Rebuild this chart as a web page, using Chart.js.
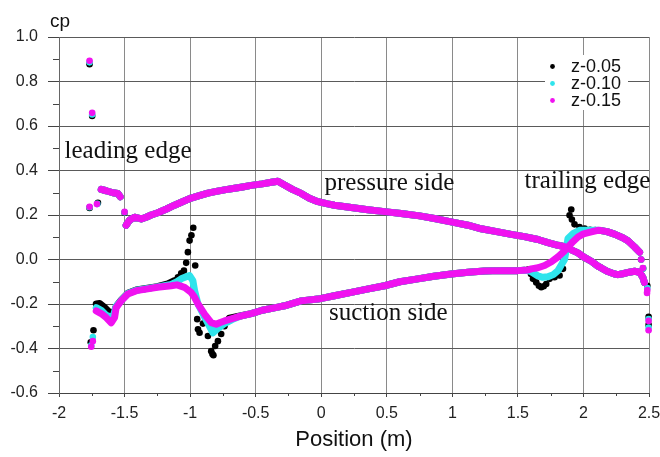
<!DOCTYPE html>
<html><head><meta charset="utf-8">
<script src="https://cdn.jsdelivr.net/npm/chart.js@4.4.1/dist/chart.umd.min.js"></script>
<style>html,body{margin:0;padding:0;background:#fff}</style>
</head><body>
<canvas id="c" width="660" height="457" style="display:block;width:660px;height:457px"></canvas>
<script>
// ---------- DATA ----------
const seriesLabels = ['z-0.05', 'z-0.10', 'z-0.15'];
const seriesColors = ['#000000', '#2fe4ec', '#f012f0'];

const xTicks = [-2, -1.5, -1, -0.5, 0, 0.5, 1, 1.5, 2, 2.5];
const yTicks = [-0.6, -0.4, -0.2, 0.0, 0.2, 0.4, 0.6, 0.8, 1.0];
const xMinorTicks = [-1.75, -1.25, -0.75, -0.25, 0.25, 0.75, 1.25, 1.75, 2.25];
const yMinorTicks = [-0.5, -0.3, -0.1, 0.1, 0.3, 0.5, 0.7, 0.9];

// pressure side (shared by all three z sections)
const pressureLE = [[-1.678,0.315],[-1.64,0.309],[-1.589,0.300],[-1.551,0.297],[-1.533,0.282]];
const pressure = [[-1.488,0.154],[-1.463,0.176],[-1.424,0.190],[-1.395,0.186],[-1.373,0.182],[-1.335,0.190],
  [-1.297,0.200],[-1.246,0.210],[-1.18,0.227],[-1.119,0.244],[-1.05,0.262],[-0.992,0.276],[-0.93,0.287],
  [-0.864,0.298],[-0.80,0.306],[-0.738,0.313],[-0.661,0.320],[-0.60,0.326],[-0.534,0.333],[-0.45,0.340],
  [-0.38,0.347],[-0.33,0.352],[-0.28,0.335],[-0.22,0.315],[-0.153,0.297],[-0.09,0.275],[-0.025,0.260],
  [0.05,0.250],[0.101,0.244],[0.2,0.236],[0.356,0.224],[0.5,0.214],[0.61,0.207],[0.75,0.196],[0.864,0.184],
  [1.0,0.168],[1.119,0.154],[1.22,0.138],[1.348,0.124],[1.449,0.113],[1.55,0.103],[1.653,0.090],[1.729,0.076],
  [1.806,0.064],[1.856,0.058],[1.92,0.040],[1.958,0.030],[2.0,0.012],[2.06,-0.008],[2.11,-0.030],[2.136,-0.038],
  [2.18,-0.053],[2.237,-0.065],[2.263,-0.068],[2.3,-0.064],[2.35,-0.057],[2.39,-0.053],[2.428,-0.057],
  [2.453,-0.080],[2.465,-0.103]];

// suction side, shared middle and trailing parts
const suctionMid = [[-0.534,-0.243],[-0.45,-0.228],[-0.33,-0.214],[-0.28,-0.208],[-0.153,-0.186],[-0.025,-0.178],
  [0.1,-0.163],[0.229,-0.148],[0.35,-0.133],[0.483,-0.118],[0.6,-0.100],[0.737,-0.087],[0.86,-0.075],
  [0.992,-0.065],[1.12,-0.057],[1.246,-0.052],[1.373,-0.050],[1.449,-0.050],[1.5,-0.050],[1.55,-0.048]];
const suctionTE = [[2.136,0.130],[2.18,0.125],[2.237,0.114],[2.3,0.098],[2.339,0.084],[2.39,0.056],[2.428,0.033]];

// z-0.15 (magenta)
const magSuctionLE = [[-1.716,-0.231],[-1.678,-0.243],[-1.64,-0.261],[-1.602,-0.284],[-1.576,-0.261],[-1.564,-0.216],
  [-1.526,-0.186],[-1.475,-0.155],[-1.41,-0.140],[-1.335,-0.133],[-1.25,-0.125],[-1.144,-0.118],[-1.1,-0.114],
  [-1.043,-0.125],[-0.992,-0.148],[-0.966,-0.170],[-0.94,-0.200],[-0.89,-0.246],[-0.839,-0.284],[-0.801,-0.291],
  [-0.77,-0.283],[-0.738,-0.276],[-0.68,-0.266],[-0.61,-0.253]];
const magSuctionTR = [[1.577,-0.047],[1.602,-0.042],[1.653,-0.037],[1.704,-0.027],[1.756,-0.010],[1.806,0.012],
  [1.85,0.035],[1.882,0.056],[1.92,0.080],[1.958,0.101],[2.0,0.115],[2.06,0.124],[2.11,0.131]];
const magDots = [[-1.767,0.893],[-1.747,0.659],[-1.767,0.237],[-1.711,0.249],[-1.5,0.214],[-1.754,-0.392],
  [-1.742,-0.367],[2.44,0.0],[2.453,-0.038],[2.487,-0.137],[2.485,-0.150],[2.497,-0.276],[2.497,-0.318]];

// z-0.10 (cyan)
const cyanSuctionLE = [[-1.716,-0.216],[-1.678,-0.228],[-1.64,-0.250],[-1.59,-0.262],[-1.564,-0.210],[-1.526,-0.184],
  [-1.475,-0.153],[-1.41,-0.138],[-1.335,-0.131],[-1.25,-0.123],[-1.144,-0.112],[-1.1,-0.100],[-1.068,-0.087],
  [-1.03,-0.078],[-1.004,-0.072],[-0.979,-0.095],[-0.966,-0.140],[-0.94,-0.200],[-0.89,-0.258],[-0.852,-0.300],
  [-0.826,-0.330],[-0.788,-0.310],[-0.738,-0.288],[-0.68,-0.270],[-0.61,-0.253]];
const cyanSuctionTR = [[1.577,-0.050],[1.602,-0.055],[1.653,-0.074],[1.69,-0.080],[1.729,-0.078],[1.77,-0.068],
  [1.806,-0.050],[1.83,-0.026],[1.856,0.0],[1.87,0.050],[1.882,0.094],[1.92,0.116],[1.97,0.131],[2.035,0.131],[2.11,0.131]];
const cyanDots = [[-1.767,0.886],[-1.747,0.652],[-1.767,0.235],[-1.708,0.250],[-1.5,0.212],[-1.754,-0.386],
  [-1.742,-0.348],[2.44,0.0],[2.455,-0.040],[2.487,-0.128],[2.497,-0.268],[2.497,-0.306]];

// z-0.05 (black)
const blackSuctionLE = [[-1.716,-0.200],[-1.69,-0.198],[-1.652,-0.216],[-1.614,-0.238],[-1.583,-0.243],[-1.564,-0.212],
  [-1.526,-0.183],[-1.475,-0.152],[-1.41,-0.137],[-1.335,-0.130],[-1.25,-0.122],[-1.17,-0.110],[-1.119,-0.095]];
const blackSpike = [[-1.093,-0.080],[-1.068,-0.062],[-1.047,-0.050],[-1.03,-0.015],[-1.017,0.033],[-1.004,0.085],
  [-0.99,0.109],[-0.976,0.143],[-0.961,-0.027],[-0.946,-0.268],[-0.94,-0.314],[-0.928,-0.329],[-0.902,-0.288],
  [-0.864,-0.344],[-0.839,-0.412],[-0.83,-0.425],[-0.822,-0.430],[-0.809,-0.389],[-0.788,-0.367],[-0.763,-0.335],
  [-0.738,-0.300],[-0.7,-0.265]];
const blackSuctionJoin = [[-0.7,-0.264],[-0.61,-0.253]];
const blackTR = [[1.577,-0.045],[1.6,-0.065],[1.615,-0.087],[1.64,-0.103],[1.66,-0.118],[1.678,-0.125],[1.697,-0.120],
  [1.716,-0.110],[1.742,-0.087],[1.78,-0.080],[1.818,-0.072],[1.844,-0.042],[1.894,0.199],[1.907,0.225],
  [1.912,0.180],[1.932,0.158],[1.97,0.146],[2.009,0.139],[2.05,0.133],[2.09,0.132]];
const blackDots = [[-1.767,0.878],[-1.747,0.645],[-1.767,0.232],[-1.703,0.255],[-1.5,0.210],[-1.758,-0.372],
  [-1.737,-0.318],[2.44,0.0],[2.455,-0.040],[2.487,-0.118],[2.497,-0.258],[2.497,-0.294]];

const annotations = [
  {text: 'leading edge', x: -1.958, y: 0.456},
  {text: 'pressure side', x: 0.025, y: 0.312},
  {text: 'trailing edge', x: 1.551, y: 0.320},
  {text: 'suction side', x: 0.059, y: -0.272}
];

// ---------- CHART ----------
const SANS = "'Liberation Sans', Arial, sans-serif";
const SERIF = "'Liberation Serif', 'Times New Roman', serif";
const toXY = arr => arr.map(p => ({x: p[0], y: p[1]}));

function lineDs(points, si, order) {
  return {label: seriesLabels[si], data: toXY(points), showLine: true, borderColor: seriesColors[si],
    backgroundColor: seriesColors[si], borderWidth: 7, borderCapStyle: 'round', borderJoinStyle: 'round',
    pointRadius: 0, pointHoverRadius: 0, tension: 0, order: order};
}
function dotDs(points, si, order) {
  return {label: seriesLabels[si], data: toXY(points), showLine: false, backgroundColor: seriesColors[si],
    borderColor: seriesColors[si], pointRadius: 3.3, pointBorderWidth: 0, pointHoverRadius: 3.3, clip: false, order: order};
}

const datasets = [
  // black (bottom)
  lineDs(pressureLE, 0, 5), lineDs(pressure, 0, 5), lineDs(blackSuctionLE, 0, 5),
  lineDs(blackSuctionJoin.concat(suctionMid), 0, 5), lineDs(suctionTE, 0, 5),
  dotDs(blackDots.concat(blackSpike, blackTR), 0, 4),
  // cyan
  lineDs(pressureLE, 1, 3), lineDs(pressure, 1, 3),
  lineDs(cyanSuctionLE.concat(suctionMid, cyanSuctionTR, suctionTE), 1, 3),
  dotDs(cyanDots, 1, 2),
  // magenta (top)
  lineDs(pressureLE, 2, 1), lineDs(pressure, 2, 1),
  lineDs(magSuctionLE.concat(suctionMid, magSuctionTR, suctionTE), 2, 1),
  dotDs(magDots, 2, 0)
];

const decorPlugin = {
  id: 'decor',
  afterDatasetsDraw(chart) {
    const ctx = chart.ctx, xs = chart.scales.x, ys = chart.scales.y, area = chart.chartArea;
    ctx.save();
    // annotations
    ctx.fillStyle = '#111';
    ctx.font = '25px ' + SERIF;
    ctx.textAlign = 'left';
    ctx.textBaseline = 'alphabetic';
    annotations.forEach(a => ctx.fillText(a.text, xs.getPixelForValue(a.x), ys.getPixelForValue(a.y)));
    // legend box
    const bx = area.right - 104, by = area.top + 18;
    ctx.fillStyle = '#ffffff';
    ctx.fillRect(bx, by, 83, 55);
    ctx.font = '18px ' + SANS;
    ctx.textBaseline = 'middle';
    seriesLabels.forEach((lab, i) => {
      const cy = by + 11.5 + i * 17;
      ctx.fillStyle = seriesColors[i];
      ctx.beginPath(); ctx.arc(bx + 7.5, cy, 2.4, 0, Math.PI * 2); ctx.fill();
      ctx.fillStyle = '#111';
      ctx.fillText(lab, bx + 26, cy + 1);
    });
    ctx.restore();
  },
  afterDraw(chart) {
    const ctx = chart.ctx, xs = chart.scales.x, ys = chart.scales.y, area = chart.chartArea;
    ctx.save();
    ctx.strokeStyle = '#444';
    ctx.lineWidth = 1;
    ctx.beginPath();
    yMinorTicks.forEach(v => { const y = Math.round(ys.getPixelForValue(v)) + 0.5; ctx.moveTo(area.left - 6, y); ctx.lineTo(area.left, y); });
    xMinorTicks.forEach(v => { const x = Math.round(xs.getPixelForValue(v)) + 0.5; ctx.moveTo(x, area.bottom); ctx.lineTo(x, area.bottom + 3); });
    ctx.stroke();
    // y axis title "cp"
    ctx.fillStyle = '#111';
    ctx.font = '19px ' + SANS;
    ctx.textAlign = 'center';
    ctx.textBaseline = 'alphabetic';
    ctx.fillText('cp', area.left + 1, 27);
    ctx.restore();
  }
};

new Chart(document.getElementById('c'), {
  type: 'scatter',
  data: {datasets},
  options: {
    responsive: false,
    animation: false,
    devicePixelRatio: 1,
    layout: {padding: {top: 37, right: 11, left: 0, bottom: 0}},
    plugins: {legend: {display: false}, tooltip: {enabled: false}},
    events: [],
    scales: {
      x: {
        type: 'linear', min: xTicks[0], max: xTicks[xTicks.length - 1],
        afterBuildTicks: s => { s.ticks = xTicks.map(v => ({value: v})); },
        ticks: {color: '#222', font: {size: 16, family: SANS}, padding: 7, maxRotation: 0, autoSkip: false,
          callback: v => String(v)},
        grid: {color: '#8a8a8a', lineWidth: 1, tickLength: 4, tickColor: '#444'},
        border: {color: '#444', width: 1},
        title: {display: true, text: 'Position (m)', color: '#111', font: {size: 22, family: SANS},
          padding: {top: 0, bottom: 4}},
        afterFit: s => { s.height = 64; s.paddingLeft = 0; s.paddingRight = 0; }
      },
      y: {
        type: 'linear', min: yTicks[0], max: yTicks[yTicks.length - 1],
        afterBuildTicks: s => { s.ticks = yTicks.map(v => ({value: v})); },
        ticks: {color: '#222', font: {size: 16, family: SANS}, padding: 10,
          callback: v => (Math.abs(v) < 1e-9 ? 0 : v).toFixed(1)},
        grid: {color: '#5a5a5a', lineWidth: 1, tickLength: 11, tickColor: '#444'},
        border: {color: '#666', width: 1},
        afterFit: s => { s.width = 59; s.paddingTop = 0; s.paddingBottom = 0; }
      }
    }
  },
  plugins: [decorPlugin]
});
</script>
</body></html>
